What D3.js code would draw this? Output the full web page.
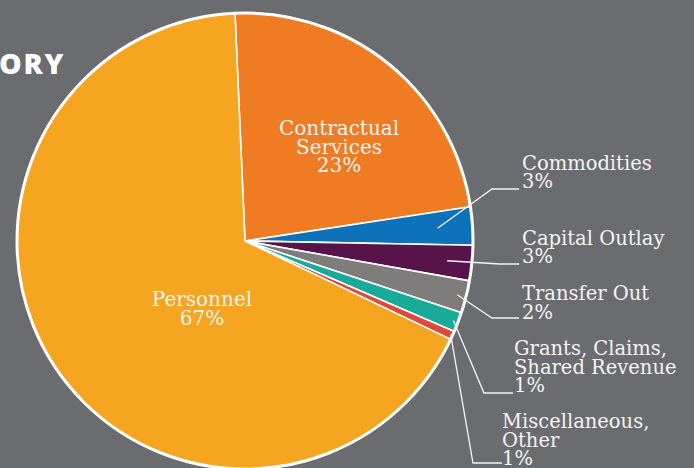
<!DOCTYPE html>
<html>
<head>
<meta charset="utf-8">
<script src="https://cdn.jsdelivr.net/npm/d3@7"></script>
<style>
  html, body { margin: 0; padding: 0; background: #6b6c70; overflow: hidden; }
  svg { display: block; }
</style>
</head>
<body>
<script>
// budget by category, share of total (%)
const categories = ["Contractual Services", "Commodities", "Capital Outlay", "Transfer Out",
  "Grants, Claims, Shared Revenue", "Miscellaneous, Other", "Personnel"];
const shares = [23.3, 2.7, 2.5, 2.3, 1.4, 0.6, 67.2];
const colors = ["#ef7b22", "#0e72ba", "#58134a", "#7e7d7b", "#1aaa99", "#e0473d", "#f5a51f"];
// label lines as printed
const labelLines = [["Contractual", "Services"], ["Commodities"], ["Capital Outlay"], ["Transfer Out"],
  ["Grants, Claims,", "Shared Revenue"], ["Miscellaneous,", "Other"], ["Personnel"]];

const width = 694, height = 468;
const cx = 245, cy = 241, r = 228;
const bg = "#6b6c70";

const svg = d3.select("body").append("svg")
    .attr("width", width)
    .attr("height", height);

svg.append("rect").attr("width", width).attr("height", height).attr("fill", bg);

// cut off heading
svg.append("text")
    .attr("x", -1)
    .attr("y", 74)
    .style("font-family", "'Open Sans', sans-serif")
    .style("font-weight", 800)
    .style("font-size", "28.5px")
    .style("letter-spacing", "1.8px")
    .attr("fill", "#ffffff")
    .text("ORY");

const data = categories.map((c, i) => ({ name: c, value: shares[i], color: colors[i], lines: labelLines[i] }));

const pie = d3.pie()
    .sort(null)
    .value(d => d.value)
    .startAngle(-0.044)
    .endAngle(-0.044 + 2 * Math.PI);

const arcs = pie(data);
const arc = d3.arc().innerRadius(0).outerRadius(r);

const g = svg.append("g").attr("transform", "translate(" + cx + "," + cy + ")");

g.selectAll(".slice")
    .data(arcs)
    .enter().append("path")
    .attr("class", "slice")
    .attr("d", arc)
    .attr("fill", d => d.data.color)
    .attr("stroke", "#ffffff")
    .attr("stroke-width", 1.6)
    .attr("stroke-linejoin", "round");

g.append("circle")
    .attr("r", r)
    .attr("fill", "none")
    .attr("stroke", "#ffffff")
    .attr("stroke-width", 3);

// label placement: inside labels use x and first baseline; outside ones use
// leader start radius, elbow and text origin
const place = [
  { inside: true, x: 339, y: 135 },
  { rr: 193, elbow: [492, 189], end: 519, x: 522, y: 169.5 },
  { rr: 203, elbow: [500, 264], end: 519, x: 522, y: 244.5 },
  { rr: 219, elbow: [492, 318], end: 519, x: 522, y: 300 },
  { rr: 223, elbow: [484, 393], end: 513, x: 514, y: 355 },
  { rr: 226, elbow: [473, 463], end: 502, x: 502, y: 428 },
  { inside: true, x: 202, y: 306 }
];

const lineH = 18.6;
const fontCss = "'DejaVu Serif', serif";
const labelColor = "#f4f4f4";

arcs.forEach((a, i) => {
  const p = place[i];
  const pct = Math.round(a.data.value) + "%";
  const lines = a.data.lines.concat([pct]);
  const t = svg.append("text")
      .style("font-family", fontCss)
      .style("font-size", p.inside ? "20px" : "19.5px")
      .attr("fill", labelColor)
      .attr("text-anchor", p.inside ? "middle" : "start");
  lines.forEach((l, j) => {
    t.append("tspan").attr("x", p.x).attr("y", p.y + j * lineH).text(l);
  });
  if (!p.inside) {
    const mid = (a.startAngle + a.endAngle) / 2;
    const sx = cx + p.rr * Math.sin(mid), sy = cy - p.rr * Math.cos(mid);
    svg.append("path")
        .attr("d", "M" + sx + "," + sy + " L" + p.elbow[0] + "," + p.elbow[1] + " L" + p.end + "," + p.elbow[1])
        .attr("fill", "none")
        .attr("stroke", labelColor)
        .attr("stroke-width", 1.3);
  }
});
</script>
</body>
</html>
